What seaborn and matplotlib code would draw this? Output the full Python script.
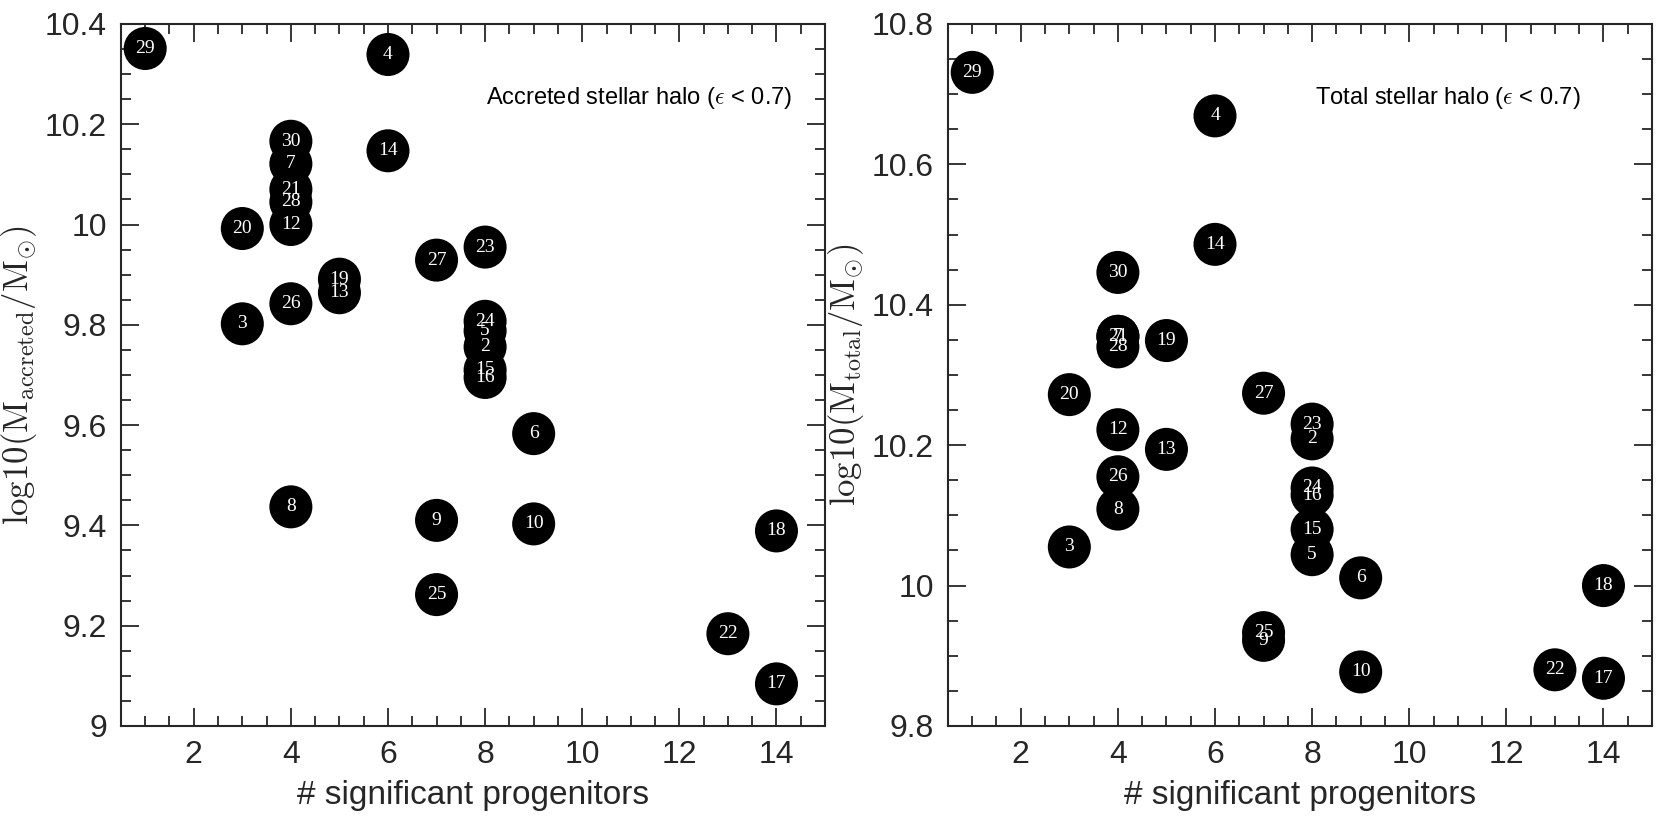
import numpy as np
import pandas as pd
import matplotlib
matplotlib.use("Agg")
import matplotlib.pyplot as plt
from matplotlib.ticker import MultipleLocator, FormatStrFormatter
import seaborn as sns

# halo ids and number of significant progenitors
halo_id = [29, 4, 30, 14, 7, 21, 28, 12, 20, 27, 23, 19, 13, 26, 3,
           24, 5, 2, 15, 16, 6, 8, 9, 10, 18, 25, 22, 17]
n_prog = [1, 6, 4, 6, 4, 4, 4, 4, 3, 7, 8, 5, 5, 4, 3,
          8, 8, 8, 8, 8, 9, 4, 7, 9, 14, 7, 13, 14]

# log10 accreted stellar halo mass
log_m_acc = [10.351, 10.339, 10.166, 10.147, 10.121, 10.070, 10.045, 10.000,
             9.992, 9.929, 9.955, 9.891, 9.864, 9.842, 9.802,
             9.807, 9.788, 9.756, 9.710, 9.695, 9.583, 9.437, 9.410,
             9.403, 9.389, 9.262, 9.184, 9.084]

# log10 total stellar halo mass
log_m_tot = [10.731, 10.669, 10.446, 10.486, 10.355, 10.355, 10.340, 10.222,
             10.272, 10.274, 10.230, 10.349, 10.194, 10.155, 10.055,
             10.139, 10.044, 10.209, 10.080, 10.129, 10.011, 10.109, 9.922,
             9.877, 10.000, 9.933, 9.880, 9.868]

df = pd.DataFrame({"halo": halo_id, "nprog": n_prog,
                   "acc": log_m_acc, "tot": log_m_tot})

sns.set_style("ticks")
plt.rcParams["font.family"] = ["Liberation Sans", "DejaVu Sans"]
plt.rcParams["mathtext.fontset"] = "cm"

fig = plt.figure(figsize=(16.61, 8.22), dpi=100)
ax1 = fig.add_axes([0.0728, 0.1168, 0.4239, 0.8541])
ax2 = fig.add_axes([0.5707, 0.1168, 0.4239, 0.8541])

panels = [
    (ax1, "acc", (9.0, 10.4), r"$\mathrm{log10(M_{accreted}/M_{\odot})}$",
     "Accreted stellar halo ", 0.954),
    (ax2, "tot", (9.8, 10.8), r"$\mathrm{log10(M_{total}/M_{\odot})}$",
     "Total stellar halo ", 0.898),
]

for ax, col, ylim, ylab, title, tx in panels:
    sns.scatterplot(data=df, x="nprog", y=col, ax=ax, color="black",
                    s=960, edgecolor="none", legend=False, zorder=3)
    for _, r in df.iterrows():
        ax.text(r["nprog"], r[col], str(int(r["halo"])), color="white",
                ha="center", va="center", fontsize=14,
                family="Liberation Serif", zorder=4)
    ax.set_xlim(0.5, 15)
    ax.set_ylim(*ylim)
    ax.xaxis.set_major_locator(MultipleLocator(2))
    ax.xaxis.set_minor_locator(MultipleLocator(0.5))
    ax.yaxis.set_major_locator(MultipleLocator(0.2))
    ax.yaxis.set_minor_locator(MultipleLocator(0.05))
    ax.yaxis.set_major_formatter(FormatStrFormatter("%g"))
    ax.tick_params(which="both", direction="in", top=True, right=True,
                   colors="#262626", width=1.3)
    ax.tick_params(which="major", length=13, labelsize=23, pad=10)
    ax.tick_params(which="minor", length=7)
    for sp in ax.spines.values():
        sp.set_linewidth(1.5)
        sp.set_color("#262626")
    ax.set_xlabel("# significant progenitors", fontsize=24, color="#262626",
                  labelpad=7)
    ax.set_ylabel(ylab, fontsize=25, color="#262626", labelpad=4)
    ax.text(tx, 0.895, title + r"($\epsilon$ < 0.7)", transform=ax.transAxes,
            ha="right", va="center", fontsize=17, color="black")

fig.savefig("out.png", dpi=100)
